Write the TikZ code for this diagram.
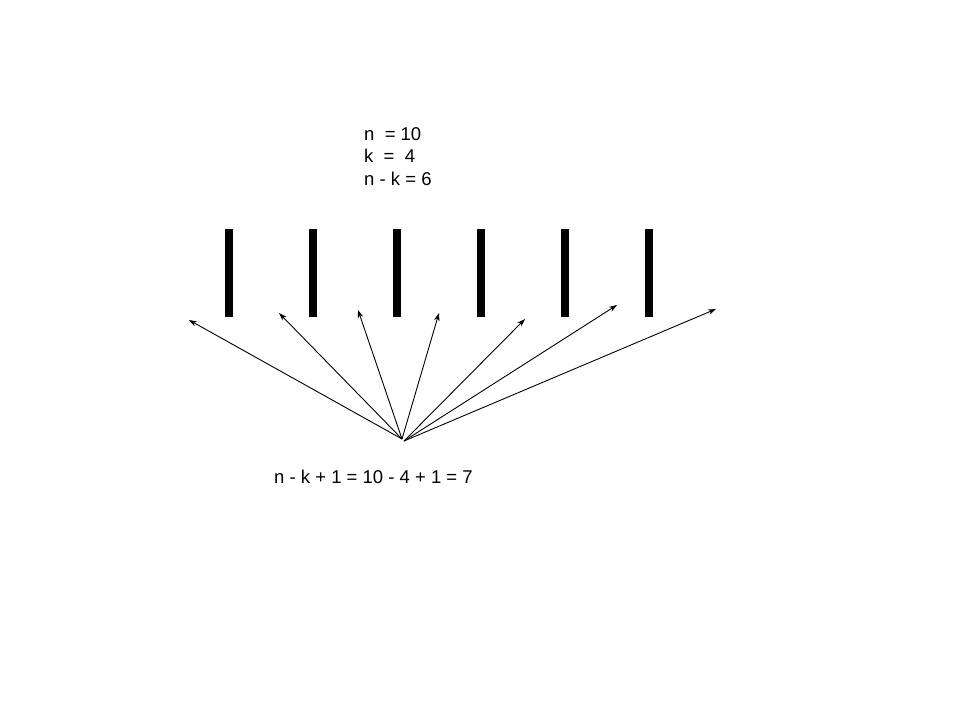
\documentclass[tikz,border=0pt]{standalone}
\usepackage{fontspec}
\setmainfont{Liberation Sans}
\usetikzlibrary{arrows.meta}
\begin{document}
\begin{tikzpicture}[x=1pt,y=-1pt,
  bar/.style={fill=black,draw=none,minimum width=8pt,minimum height=88pt,inner sep=0pt},
  arr/.style={-{Stealth[length=8pt,width=5.5pt]},line width=0.9pt},
  lbl/.style={font=\fontsize{18.5pt}{22.5pt}\selectfont,inner sep=0pt,anchor=west}]
\useasboundingbox (0,0) rectangle (960,720);
\node[lbl,align=left,anchor=north west] (params) at (364,127) {n\ \ = 10\\k\ \ =\ \ 4\\n - k = 6};
\foreach \i/\x in {1/229,2/313,3/397,4/481,5/565,6/649}{
  \node[bar] (b\i) at (\x,273) {};
}
\coordinate (src) at (402,439);
\coordinate (src2) at (404,441);
\coordinate (t1) at (189,320);
\coordinate (t2) at (279,313);
\coordinate (t3) at (358,310);
\coordinate (t4) at (439,313);
\coordinate (t5) at (525,319);
\coordinate (t6) at (617,305);
\coordinate (t7) at (716,309);
\foreach \i in {1,...,4}{\draw[arr] (src) -- (t\i);}
\foreach \i in {5,...,7}{\draw[arr] (src2) -- (t\i);}
\node[lbl] (formula) at (274,477) {n - k + 1 = 10 - 4 + 1 = 7};
\end{tikzpicture}
\end{document}
